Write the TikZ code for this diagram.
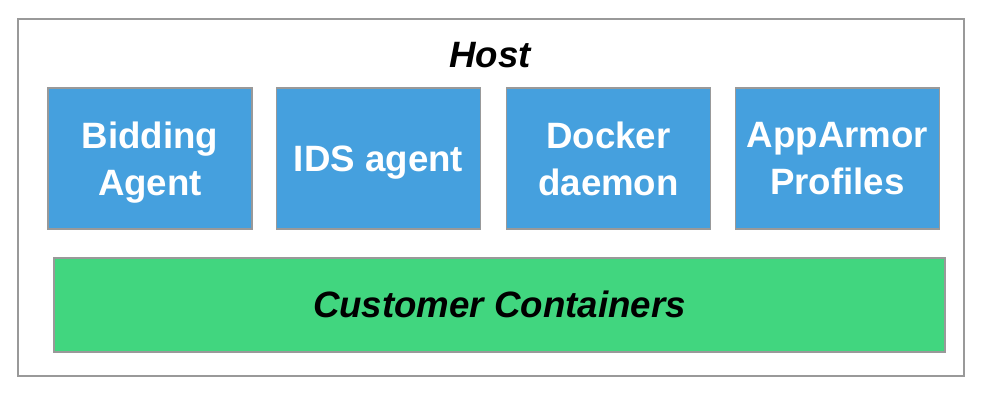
\documentclass[tikz,border=0pt]{standalone}
\usepackage{fontspec}
\setmainfont{Liberation Sans}
\begin{document}
\begin{tikzpicture}[x=0.03cm,y=-0.03cm,
    frame/.style={draw=gray!80,line width=1.6pt,inner sep=0pt},
    agent/.style={frame,fill=agentblue,text=white,minimum width=204*0.03cm,
      minimum height=141*0.03cm,align=center,text depth=-3pt,
      font=\bfseries\fontsize{31.3}{40}\selectfont},
    label/.style={font=\bfseries\itshape\fontsize{31.3}{40}\selectfont}]
    \definecolor{agentblue}{HTML}{45A0DE}
    \definecolor{boxgreen}{HTML}{41D67F}
    \useasboundingbox (0,0) rectangle (982,402);
    \node[frame,minimum width=946*0.03cm,minimum height=357*0.03cm] (host) at (491,197.5) {};
    \node[label] (hostlabel) at (490,55) {Host};
    \node[agent] (bidding) at (150,158.5) {Bidding\\Agent};
    \node[agent] (ids) at (378.5,158.5) {IDS agent};
    \node[agent] (docker) at (608.5,158.5) {Docker\\daemon};
    \node[agent] (apparmor) at (837.5,158.5) {AppArmor\\Profiles};
    \node[frame,fill=boxgreen,label,text depth=1pt,minimum width=891*0.03cm,
      minimum height=94*0.03cm] (customers) at (499.5,305) {Customer Containers};
\end{tikzpicture}
\end{document}
